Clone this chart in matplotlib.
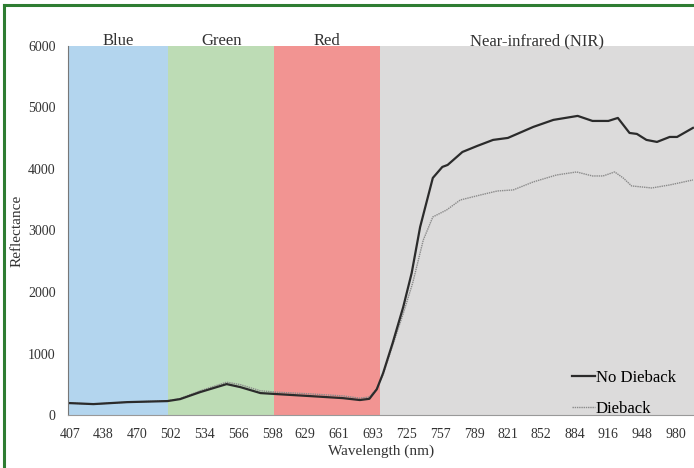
import numpy as np
import matplotlib
matplotlib.use('Agg')
import matplotlib.pyplot as plt
from matplotlib.patches import Rectangle

# spectral bands (nm)
bands = ['Blue', 'Green', 'Red', 'Near-infrared (NIR)']
band_start = [400, 500, 600, 700]
band_end = [500, 600, 700, 1000]
band_colors = ['#b3d5ee', '#bddcb5', '#f29492', '#dcdbdb']

# No Dieback spectrum
wl_healthy = [407, 429, 461, 499, 511, 530, 555, 568, 587, 603, 634, 665, 681, 690,
              697, 703, 712, 722, 730, 738, 750, 759, 764, 778, 792, 807, 821, 845, 864,
              887, 901, 916, 925, 936, 943, 952, 962, 974, 981, 996]
refl_healthy = [195, 179, 211, 228, 260, 374, 504, 455, 358, 341, 309, 276, 245, 265,
                420, 683, 1171, 1756, 2309, 3057, 3854, 4033, 4065, 4276, 4374, 4472, 4504,
                4683, 4797, 4862, 4780, 4780, 4829, 4585, 4569, 4472, 4439, 4520, 4520, 4667]

# Dieback spectrum
wl_dieback = [407, 429, 461, 499, 511, 530, 555, 568, 587, 603, 634, 665, 681, 690,
              697, 703, 712, 722, 731, 741, 750, 763, 776, 795, 811, 826, 845, 867, 886,
              901, 911, 922, 930, 938, 957, 974, 996]
refl_dieback = [195, 180, 210, 232, 268, 395, 535, 495, 395, 372, 345, 312, 275, 295,
                430, 660, 1130, 1650, 2150, 2846, 3220, 3333, 3496, 3577, 3642, 3659, 3789,
                3902, 3951, 3886, 3886, 3951, 3854, 3724, 3691, 3740, 3821]

xticks = [407, 438, 470, 502, 534, 566, 598, 629, 661, 693, 725, 757, 789, 821,
          852, 884, 916, 948, 980]

plt.rcParams['font.family'] = ['Liberation Serif', 'DejaVu Serif']

fig = plt.figure(figsize=(6.94, 4.68), dpi=100)
ax = fig.add_axes([0.098, 0.113, 0.902, 0.789])

for name, s, e, c in zip(bands, band_start, band_end, band_colors):
    ax.add_patch(Rectangle((s, 0), e - s, 6000, facecolor=c, edgecolor='none', zorder=0))
    mid = (max(s, 405) + min(e, 997)) / 2
    ax.text(mid, 6015, name, ha='center', va='baseline', fontsize=12, color='#333333')

ax.plot(wl_healthy, refl_healthy, color='#2b2b2b', lw=1.6, label='No Dieback', zorder=3)
ax.plot(wl_dieback, refl_dieback, color='#8a8a8a', lw=1.0, ls=(0, (1, 0.6)),
        label='Dieback', zorder=2)

ax.set_xlim(405, 997)
ax.set_ylim(0, 6000)
ax.set_xticks(xticks)
ax.set_yticks(range(0, 6001, 1000))
ax.tick_params(length=0, labelsize=10, colors='#333333')
ax.tick_params(axis='x', pad=9)
ax.tick_params(axis='y', pad=9)
ax.set_xlabel('Wavelength (nm)', fontsize=11, color='#333333', labelpad=3)
ax.set_ylabel('Reflectance', fontsize=11, color='#333333', labelpad=3)

for side in ['top', 'right']:
    ax.spines[side].set_visible(False)
ax.spines['left'].set_color('#777777')
ax.spines['bottom'].set_color('#999999')

leg = ax.legend(loc='lower right', bbox_to_anchor=(0.995, -0.045), frameon=False,
                fontsize=12, handlelength=1.4, handletextpad=0.05, labelspacing=0.9)

# green frame around the figure
fig.add_artist(plt.Line2D([0.006, 0.006], [0.0, 0.99], transform=fig.transFigure,
                          color='#2e7d32', lw=2.2))
fig.add_artist(plt.Line2D([0.006, 1.0], [0.99, 0.99], transform=fig.transFigure,
                          color='#2e7d32', lw=2.2))

fig.savefig('out.png', dpi=100)
